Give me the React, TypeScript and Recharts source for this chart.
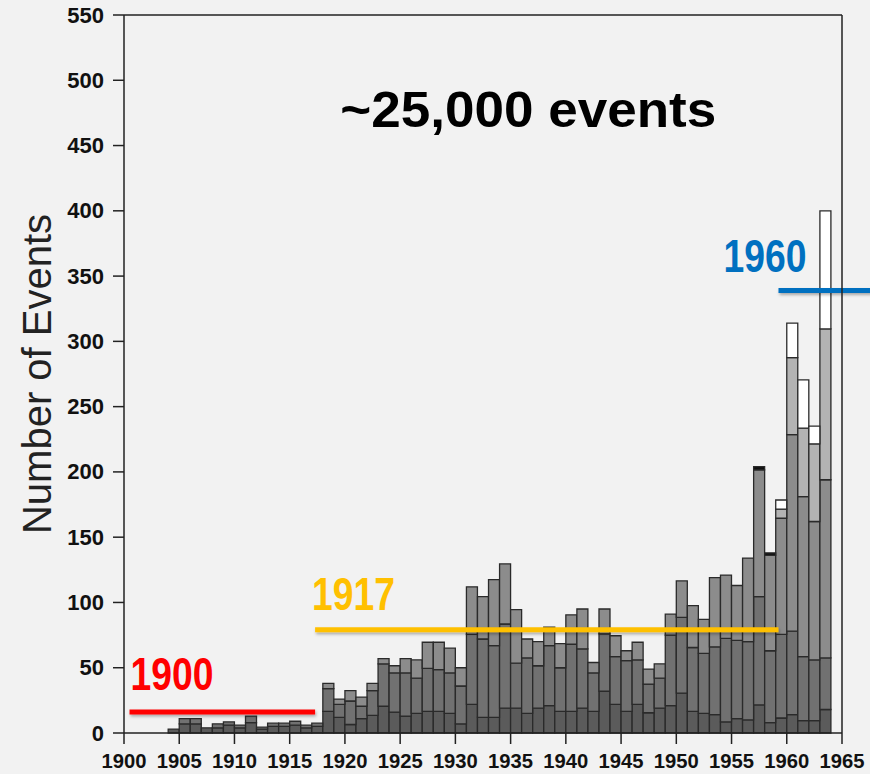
import { Bar, BarChart, ReferenceDot, ReferenceLine, XAxis, YAxis } from "recharts";

// one bin per year, drawn from year to year+1
const years = [
  1904, 1905, 1906, 1907, 1908, 1909, 1910, 1911, 1912, 1913,
  1914, 1915, 1916, 1917, 1918, 1919, 1920, 1921, 1922, 1923,
  1924, 1925, 1926, 1927, 1928, 1929, 1930, 1931, 1932, 1933,
  1934, 1935, 1936, 1937, 1938, 1939, 1940, 1941, 1942, 1943,
  1944, 1945, 1946, 1947, 1948, 1949, 1950, 1951, 1952, 1953,
  1954, 1955, 1956, 1957, 1958, 1959, 1960, 1961, 1962, 1963,
];

// stacked layers, bottom to top
const layerA = [
  3, 7, 7, 4, 4, 6, 4, 8, 3, 5,
  5, 6, 4, 5, 16.5, 12, 6.5, 11, 13.5, 20.5,
  16, 13, 15, 16.5, 16.5, 15, 7, 22, 12, 12,
  19, 19, 15, 19, 21, 16.5, 16.5, 19, 16.5, 32,
  22, 16.5, 22, 15.5, 19, 21, 30.5, 16.5, 15, 14,
  8.5, 11, 10, 21.5, 8, 11.5, 14, 9.5, 9.5, 18,
];
const layerB = [
  0, 4, 4, 0, 3, 2.5, 2, 5, 1.5, 2.5,
  2.5, 3, 2, 2.5, 17.5, 10, 18, 9.5, 19, 32.5,
  30, 33, 27, 33, 32, 31, 29, 53.5, 60, 55,
  64.5, 34.5, 42.5, 32.5, 46, 33.5, 51.5, 45.5, 29.5, 44,
  36.5, 39, 34, 22, 23, 54, 58, 49, 46, 52,
  64, 60, 60, 83, 55, 64, 64, 49, 46.5, 39.5,
];
const layerC = [
  0, 0, 0, 0, 0, 0, 0, 0, 0, 0,
  0, 0, 0, 0, 4, 4, 8, 7, 5.5, 4,
  5.5, 11, 14, 20, 21, 19, 14, 36.5, 32.5, 50.5,
  46, 41, 14.5, 18.5, 14, 18.5, 22.5, 30.5, 8, 19,
  16, 7.5, 13.5, 11.5, 11, 16, 28, 32, 26, 53,
  48.5, 42, 64, 97, 73, 89, 150.5, 122.5, 106, 136.5,
];
const layerD = [
  0, 0, 0, 0, 0, 0, 0, 0, 0, 0,
  0, 0, 0, 0, 0, 0, 0, 0, 0, 0,
  0, 0, 0, 0, 0, 0, 0, 0, 0, 0,
  0, 0, 0, 0, 0, 0, 0, 0, 0, 0,
  0, 0, 0, 0, 0, 0, 0, 0, 0, 0,
  0, 0, 0, 0, 0, 7, 59, 52.5, 59.5, 115.5,
];
const layerE = [
  0, 0, 0, 0, 0, 0, 0, 0, 0, 0,
  0, 0, 0, 0, 0, 0, 0, 0, 0, 0,
  0, 0, 0, 0, 0, 0, 0, 0, 0, 0,
  0, 0, 0, 0, 0, 0, 0, 0, 0, 0,
  0, 0, 0, 0, 0, 0, 0, 0, 0, 0,
  0, 0, 0, 0, 0, 7, 26.5, 37, 13.5, 90.5,
];
const layerF = [
  0, 0, 0, 0, 0, 0, 0, 0, 0, 0,
  0, 0, 0, 0, 0, 0, 0, 0, 0, 0,
  0, 0, 0, 0, 0, 0, 0, 0, 0, 0,
  0, 0, 0, 0, 0, 0, 0, 0, 0, 0,
  0, 0, 0, 0, 0, 0, 0, 0, 0, 0,
  0, 0, 0, 2.5, 2, 0, 0, 0, 0, 0,
];

const yearTicks = [1900, 1905, 1910, 1915, 1920, 1925, 1930, 1935, 1940, 1945, 1950, 1955, 1960, 1965];
const countTicks = [0, 50, 100, 150, 200, 250, 300, 350, 400, 450, 500, 550];

// start-year markers
const markLabels = ["1900", "1917", "1960"];
const markFrom = [1900.5, 1917.3, 1959.25];
const markTo = [1917.3, 1959.25, 1968];
const markLevel = [16, 79, 339];

const layerKeys = ["a", "b", "c", "d", "e", "f"];
const layerColors = ["#5b5b5b", "#717171", "#8c8c8c", "#b3b3b3", "#ffffff", "#111111"];
const markColors = ["#ff0000", "#ffc000", "#0070c0"];
const markOffsets = [
  { dx: 1, dy: -22 },
  { dx: -3, dy: -20 },
  { dx: -55, dy: -18 },
];

const FONT = "'Liberation Sans', Arial, sans-serif";

const rows = years.map((year, i) => ({
  year,
  mid: year + 0.5,
  a: layerA[i],
  b: layerB[i],
  c: layerC[i],
  d: layerD[i],
  e: layerE[i],
  f: layerF[i],
}));

function YearTick({ x, y, payload }: any) {
  return (
    <text
      x={x}
      y={y + 24}
      textAnchor="middle"
      fontFamily={FONT}
      fontSize={21}
      fontWeight="bold"
      fill="#111"
      textLength={45}
      lengthAdjust="spacingAndGlyphs"
    >
      {payload.value}
    </text>
  );
}

function CountTick({ x, y, payload }: any) {
  return (
    <text x={x} y={y + 7.5} textAnchor="end" fontFamily={FONT} fontSize={22} fontWeight="bold" fill="#111">
      {payload.value}
    </text>
  );
}

const markLabel = (i: number) => (props: any) => {
  const vb = props.viewBox;
  return (
    <text
      x={vb.x + markOffsets[i].dx}
      y={vb.y + markOffsets[i].dy}
      fill={markColors[i]}
      fontFamily={FONT}
      fontSize={46}
      fontWeight="bold"
      textLength={83}
      lengthAdjust="spacingAndGlyphs"
    >
      {markLabels[i]}
    </text>
  );
};

const totalLabel = (props: any) => {
  const vb = props.viewBox;
  return (
    <text
      x={vb.x}
      y={vb.y}
      textAnchor="middle"
      fontFamily={FONT}
      fontSize={50}
      fontWeight="bold"
      fill="#000"
      textLength={376}
      lengthAdjust="spacingAndGlyphs"
    >
      ~25,000 events
    </text>
  );
};

const axisTitle = (props: any) => {
  const vb = props.viewBox;
  const cx = vb.x + 51;
  const cy = vb.y + vb.height / 2;
  return (
    <text
      x={cx}
      y={cy}
      transform={`rotate(-90 ${cx} ${cy})`}
      textAnchor="middle"
      fontFamily={FONT}
      fontSize={40}
      fill="#222"
    >
      Number of Events
    </text>
  );
};

export default function App() {
  return (
    <div style={{ position: "absolute", left: 0, top: 0, width: 870, height: 774, background: "#f2f2f2" }}>
      <BarChart
        width={870}
        height={774}
        data={rows}
        margin={{ top: 0, right: 0, bottom: 0, left: 0 }}
        barCategoryGap={0}
        barGap={0}
      >
        <defs>
          <filter id="markShadow" filterUnits="userSpaceOnUse" x="0" y="0" width="870" height="774">
            <feDropShadow dx="1" dy="2" stdDeviation="1.5" floodColor="#000" floodOpacity="0.3" />
          </filter>
        </defs>
        <XAxis
          xAxisId="bottom"
          dataKey="mid"
          type="number"
          domain={[1900, 1965]}
          ticks={yearTicks}
          interval={0}
          height={41}
          tickSize={11}
          tickMargin={0}
          stroke="#222"
          strokeWidth={1.5}
          tick={<YearTick />}
        />
        <XAxis
          xAxisId="top"
          orientation="top"
          dataKey="mid"
          type="number"
          domain={[1900, 1965]}
          ticks={yearTicks}
          interval={0}
          height={15}
          tickSize={10}
          stroke="#222"
          strokeWidth={1.5}
          tick={false}
        />
        <YAxis
          yAxisId="left"
          type="number"
          domain={[0, 550]}
          ticks={countTicks}
          interval={0}
          width={124}
          tickSize={11}
          tickMargin={9}
          stroke="#222"
          strokeWidth={1.5}
          tick={<CountTick />}
          label={{ content: axisTitle }}
        />
        <YAxis
          yAxisId="right"
          orientation="right"
          type="number"
          domain={[0, 550]}
          ticks={countTicks}
          interval={0}
          width={28}
          tickSize={8}
          stroke="#222"
          strokeWidth={1.5}
          tick={false}
        />
        {layerKeys.map((key, i) => (
          <Bar
            key={key}
            dataKey={key}
            stackId="events"
            xAxisId="bottom"
            yAxisId="left"
            fill={layerColors[i]}
            stroke="#2a2a2a"
            strokeWidth={1.3}
            isAnimationActive={false}
          />
        ))}
        {markLabels.map((text, i) => (
          <ReferenceLine
            key={text}
            xAxisId="bottom"
            yAxisId="left"
            segment={[
              { x: markFrom[i], y: markLevel[i] },
              { x: markTo[i], y: markLevel[i] },
            ]}
            stroke={markColors[i]}
            strokeWidth={5}
            filter="url(#markShadow)"
            ifOverflow="visible"
            label={{ content: markLabel(i) }}
          />
        ))}
        <ReferenceDot
          xAxisId="bottom"
          yAxisId="left"
          x={1936.6}
          y={464}
          r={0}
          fill="none"
          stroke="none"
          ifOverflow="visible"
          label={{ content: totalLabel }}
        />
      </BarChart>
    </div>
  );
}
